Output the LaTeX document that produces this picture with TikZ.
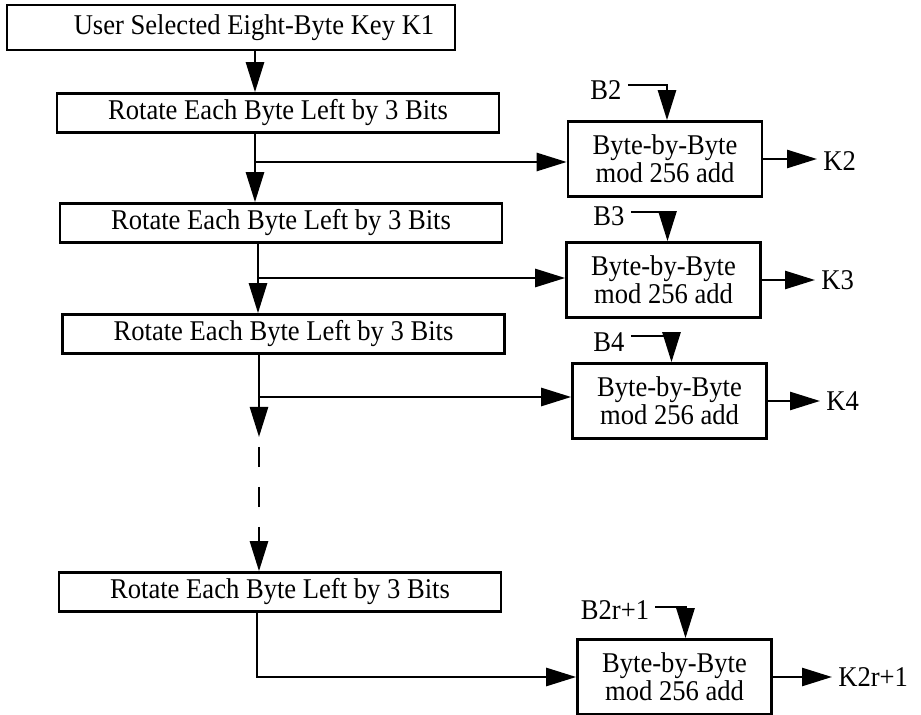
\documentclass[tikz,border=0pt]{standalone}
\usepackage{fontspec}
\setmainfont{Liberation Serif}[FakeStretch=0.93]
\usetikzlibrary{arrows.meta,calc}

\begin{document}
\begin{tikzpicture}[x=0.5pt, y=-0.5pt, line width=1.3pt,
        every node/.style={font=\fontsize{14.3}{14}\selectfont},
        rotbox/.style={draw, inner sep=0, minimum width=221pt, minimum height=19.5pt},
        addbox/.style={draw, inner sep=0, minimum width=97pt, minimum height=37.5pt, align=center},
        lbl/.style={inner sep=2.5pt},
        arr/.style={-{Triangle[length=15pt, width=9pt]}}]
        \useasboundingbox (0,0) rectangle (921,715);

        % key and rotations
        \node[draw, inner sep=0, minimum width=224pt, minimum height=22.5pt] (key) at (231,27.5) {\hspace*{23pt}User Selected Eight-Byte Key K1};
        \node[rotbox] (rot1) at (278,113) {Rotate Each Byte Left by 3 Bits};
        \node[rotbox] (rot2) at (281,223) {Rotate Each Byte Left by 3 Bits};
        \node[rotbox] (rot3) at (283.5,334) {Rotate Each Byte Left by 3 Bits};
        \node[rotbox] (rot4) at (280,592) {Rotate Each Byte Left by 3 Bits};

        % adders
        \node[addbox] (add1) at (665,159) {Byte-by-Byte\\mod 256 add};
        \node[addbox] (add2) at (663.5,280) {Byte-by-Byte\\mod 256 add};
        \node[addbox] (add3) at (669.5,401) {Byte-by-Byte\\mod 256 add};
        \node[addbox] (add4) at (674.5,677) {Byte-by-Byte\\mod 256 add};

        \node[lbl] (b2) at (606,90) {B2};
        \node[lbl] (b3) at (609,216) {B3};
        \node[lbl] (b4) at (609,342) {B4};
        \node[lbl] (b2r) at (615,610) {B2r+1};

        \node[lbl, anchor=west] (k2) at (817,161) {K2};
        \node[lbl, anchor=west] (k3) at (815,280) {K3};
        \node[lbl, anchor=west] (k4) at (820,401) {K4};
        \node[lbl, anchor=west] (k2r) at (832,677) {K2r+1};

        \coordinate (s1) at (255,162);
        \coordinate (s2) at (258,278);
        \coordinate (s3) at (259,397);
        \coordinate (s4) at (257,677);
        \coordinate (d1) at (259,437);
        \coordinate (d2) at (259,447);
        \coordinate (d3) at (259,507);
        \coordinate (d4) at (259,527);

        % main chain
        \draw[arr] (key.south -| s1) -- (rot1.north -| s1);
        \draw[arr] (rot1.south -| s1) -- (rot2.north -| s1);
        \draw[arr] (s1) -- (s1 -| add1.west);
        \draw[arr] (rot2.south -| s2) -- (rot3.north -| s2);
        \draw[arr] (s2) -- (s2 -| add2.west);
        \draw (rot3.south -| s3) -- (s3);
        \draw[arr] (s3) -- (d1);
        \draw[arr] (s3) -- (s3 -| add3.west);
        \draw[dash pattern=on 10pt off 10pt] (d2) -- (d3);
        \draw[arr] (d4) -- (rot4.north -| d4);
        \draw[arr] (rot4.south -| s4) -- (s4) -- (add4.west);

        % B inputs
        \draw[arr] ([yshift=2.5pt]b2.east) -| ($(add1.north)+(2,0)$);
        \draw[arr] ([yshift=2pt]b3.east) -| ($(add2.north)+(4,0)$);
        \draw[arr] ([yshift=3pt]b4.east) -| ($(add3.north)+(2,0)$);
        \draw[arr] ([yshift=1.5pt]b2r.east) -| ($(add4.north)+(11,0)$);

        % K outputs
        \draw[arr] (add1.east) -- (add1.east -| k2.west);
        \draw[arr] (add2.east) -- (add2.east -| k3.west);
        \draw[arr] (add3.east) -- (add3.east -| k4.west);
        \draw[arr] (add4.east) -- (add4.east -| k2r.west);
    \end{tikzpicture}
\end{document}
